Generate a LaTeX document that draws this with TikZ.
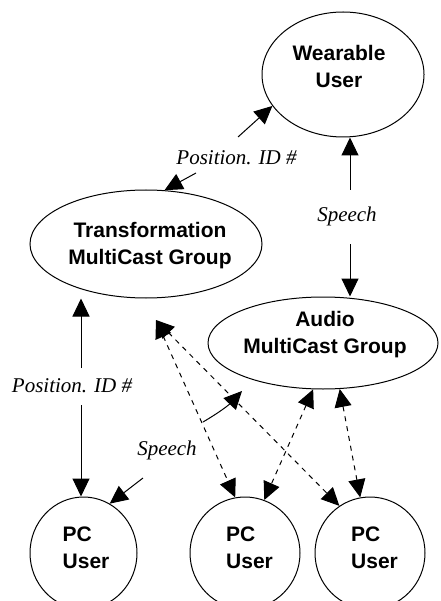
\documentclass[tikz,border=0pt]{standalone}
\usepackage{fontspec}
\setmainfont{Liberation Serif}
\setsansfont{Liberation Sans}
\usetikzlibrary{arrows.meta,shapes.geometric}
\begin{document}
\begin{tikzpicture}[x=1pt,y=-1pt,
  ell/.style={draw, ellipse, line width=1pt, inner sep=0pt},
  boldtxt/.style={font=\fontsize{21}{27}\selectfont\sffamily\bfseries, inner sep=0pt},
  lab/.style={font=\fontsize{21}{25}\selectfont\itshape, inner sep=0pt, anchor=base},
  arr/.style={line width=1pt, -{Triangle[length=18pt,width=17pt]}},
  darr/.style={line width=1pt, dash pattern=on 5pt off 5pt, {Triangle[length=18pt,width=17pt]}-{Triangle[length=18pt,width=17pt]}}
]
\useasboundingbox (0,0) rectangle (440,601);
\clip (0,0) rectangle (440,601);
% ellipses
\node[ell, minimum width=162pt, minimum height=125pt] (w) at (343,74.5) {};
\node[ell, minimum width=232pt, minimum height=108pt] (t) at (146,244) {};
\node[ell, minimum width=230pt, minimum height=92pt] (a) at (323,343) {};
\node[ell, minimum width=107pt, minimum height=112pt] (p1) at (83.5,553) {};
\node[ell, minimum width=110pt, minimum height=112pt] (p2) at (245,553) {};
\node[ell, minimum width=110pt, minimum height=112pt] (p3) at (370,553) {};
% texts
\node[boldtxt, align=center] (wt) at (339,66) {Wearable\\User};
\node[boldtxt, align=center] (tt) at (150,245.5) {Transformation\\MultiCast Group};
\node[boldtxt, align=center] (at) at (325,335) {Audio\\MultiCast Group};
\node[boldtxt, align=left, anchor=west] (p1t) at (62.5,548) {PC\\User};
\node[boldtxt, align=left, anchor=west] (p2t) at (226,548) {PC\\User};
\node[boldtxt, align=left, anchor=west] (p3t) at (351,548) {PC\\User};
% labels
\node[lab] (l1) at (236.5,165) {Position. ID \#};
\node[lab] (l2) at (347,222) {Speech};
\node[lab] (l3) at (72,392) {Position. ID \#};
\node[lab] (l4) at (167,455) {Speech};
% free ends
\coordinate (c1) at (238,137);
\coordinate (c2) at (196,173);
\coordinate (s1) at (350,190);
\coordinate (s2) at (350,244);
\coordinate (q1) at (81,368);
\coordinate (q2) at (81,405);
\coordinate (r1) at (143,478);
\coordinate (r2) at (203,422);
\coordinate (r3) at (242,391);
\coordinate (d0) at (156,320);
% solid connectors
\draw[arr] (c1) -- (w.204);
\draw[arr] (c2) -- (t.71);
\draw[arr] (s1) -- (s1 |- w.south);
\draw[arr] (s2) -- (s2 |- a.north);
\draw[arr] (q1) -- (q1 |- t.south);
\draw[arr] (q2) -- (q2 |- p1.north);
\draw[arr] (r1) -- (p1.62);
\draw[arr] (r2) to[bend right=8] (r3);
% dashed connectors
\draw[darr] (d0) -- (p2.100);
\draw[darr] (d0) -- (p3.123);
\draw[darr] (a.258) -- (p2.70);
\draw[darr] (a.290) -- (p3.100);
\end{tikzpicture}
\end{document}
